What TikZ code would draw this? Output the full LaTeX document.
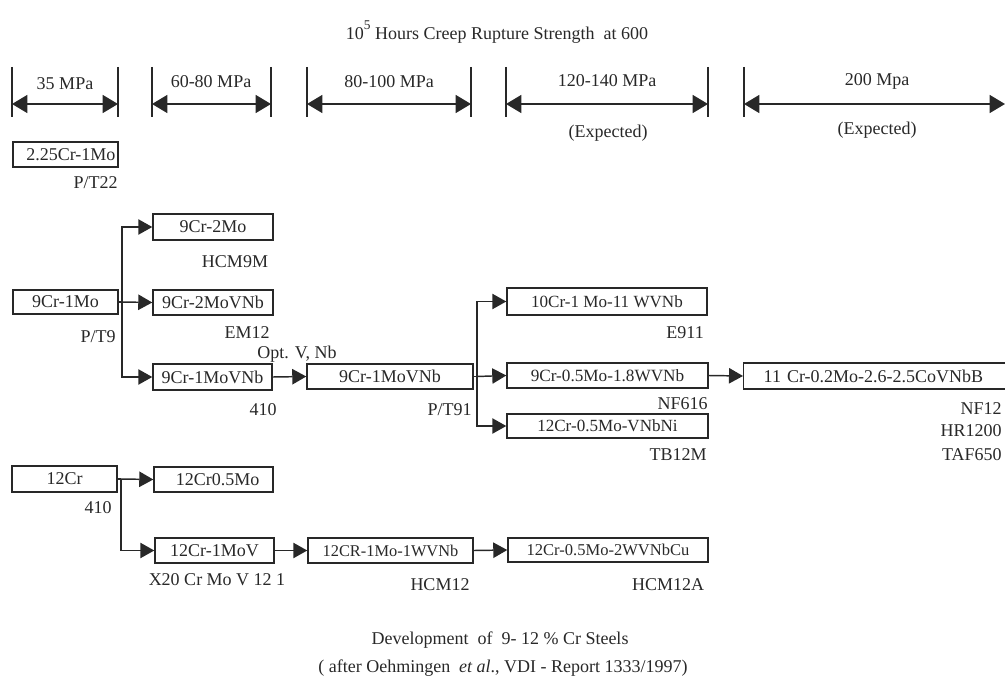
\documentclass[tikz,border=0pt]{standalone}
\usepackage{fontspec}
\setmainfont{Liberation Serif}
\usetikzlibrary{arrows.meta}
\definecolor{ink}{RGB}{40,40,40}
\tikzset{
  every node/.style={text=ink},
  lbl/.style={inner sep=0pt, font=\fontsize{13.5}{16}\selectfont},
  box/.style={draw=ink, line width=1.1pt, inner sep=0pt, font=\fontsize{13.5}{16}\selectfont},
  bw/.style={minimum width={#1*0.75pt}},
  bh/.style={minimum height={#1*0.75pt}},
  conn/.style={draw=ink, line width=1.1pt, -{Triangle[length=10.5pt,width=11.5pt]}},
  link/.style={draw=ink, line width=1.1pt},
  dimline/.style={draw=ink, line width=1.1pt, {Triangle[length=11.5pt,width=13.5pt]}-{Triangle[length=11.5pt,width=13.5pt]}},
  tick/.style={draw=ink, line width=1pt}
}
\begin{document}
\begin{tikzpicture}[x=0.75pt, y=-0.75pt]
\useasboundingbox (0,0) rectangle (1005,681);
\clip (0,0) rectangle (1005,681);

% title
\node[lbl] (title) at (497,32) {10\raisebox{0.55em}{\fontsize{10}{10}\selectfont 5}\ Hours Creep Rupture Strength\ \ at 600};

% dimension ranges
\foreach \xa/\xb/\nm in {12/118/a, 152/271/b, 307/471/c, 506/708/d}{
  \coordinate (\nm1) at (\xa,104);
  \coordinate (\nm2) at (\xb,104);
  \draw[tick] (\xa,67) -- (\xa,117);
  \draw[tick] (\xb,67) -- (\xb,117);
  \draw[dimline] (\nm1) -- (\nm2);
}
\coordinate (e1) at (744,104);
\coordinate (e2) at (1005,104);
\draw[tick, line width=1.8pt] (744,67) -- (744,117);
\draw[dimline] (e1) -- (e2);

\node[lbl] (r1) at (65,84) {35 MPa};
\node[lbl] (r2) at (211,82) {60-80 MPa};
\node[lbl] (r3) at (389,82) {80-100 MPa};
\node[lbl] (r4) at (607,81) {120-140 MPa};
\node[lbl] (r5) at (877,81) {200 Mpa};
\node[lbl] (x4) at (608,133) {(Expected)};
\node[lbl] (x5) at (877,130) {(Expected)};

% boxes
\node[box, bw=105, bh=25] (b225) at (65.5,154.5) {\hspace{8pt}2.25Cr-1Mo};
\node[lbl, anchor=east] (lp22) at (118,183) {P/T22};

\node[box, bw=105, bh=24] (b9cr1mo) at (65.5,302) {9Cr-1Mo};
\node[lbl, anchor=east] (lpt9) at (116,337) {P/T9};

\node[box, bw=120, bh=26] (b9cr2mo) at (213,227) {9Cr-2Mo};
\node[lbl] (lhcm9m) at (235,262) {HCM9M};

\node[box, bw=120, bh=25] (b9cr2movnb) at (213,302.5) {9Cr-2MoVNb};
\node[lbl] (lem12) at (247,333) {EM12};

\node[box, bw=119, bh=26] (b9cr1movnb) at (212.5,377) {9Cr-1MoVNb};
\node[lbl] (lopt) at (297,354) {Opt. V, Nb};
\node[lbl] (l410a) at (263,410) {410};

\node[box, bw=166, bh=25] (bT91) at (390,376.5) {9Cr-1MoVNb};
\node[lbl, anchor=east] (lpt91) at (472,410) {P/T91};

\node[box, bw=200, bh=27, font=\fontsize{12.8}{15}\selectfont] (b10cr) at (607,301.5) {10Cr-1 Mo-11 WVNb};
\node[lbl, anchor=east] (le911) at (704,333) {E911};

\node[box, bw=201, bh=25, font=\fontsize{12.9}{15}\selectfont] (b9cr05) at (607.5,375.5) {9Cr-0.5Mo-1.8WVNb};
\node[lbl, anchor=east] (lnf616) at (708,404) {NF616};

\node[box, bw=201, bh=24, font=\fontsize{12.8}{15}\selectfont] (b12vnbni) at (607.5,426) {12Cr-0.5Mo-VNbNi};
\node[lbl, anchor=east] (ltb12m) at (707,455) {TB12M};

\node[box, bh=26, text width={227*0.75pt}, inner xsep={20*0.75pt}, align=left, anchor=west] (b11cr) at (743,376) {11 Cr-0.2Mo-2.6-2.5CoVNbB};
\node[lbl, anchor=east] (lnf12) at (1002,409) {NF12};
\node[lbl, anchor=east] (lhr1200) at (1002,431) {HR1200};
\node[lbl, anchor=east] (ltaf650) at (1002,455) {TAF650};

\node[box, bw=105, bh=26] (b12cr) at (64.5,479) {12Cr};
\node[lbl] (l410b) at (98,508) {410};

\node[box, bw=119, bh=25] (b12cr05mo) at (213.5,479.5) {\hspace{6pt}12Cr0.5Mo};
\node[box, bw=119, bh=25] (b12cr1mov) at (214.5,550.5) {12Cr-1MoV};
\node[lbl] (lx20) at (217,580) {X20 Cr Mo V 12 1};

\node[box, bw=165, bh=25, font=\fontsize{12.3}{15}\selectfont] (bhcm12) at (390.5,550.5) {12CR-1Mo-1WVNb};
\node[lbl] (lhcm12) at (440,585) {HCM12};

\node[box, bw=200, bh=24, font=\fontsize{12.4}{15}\selectfont] (bhcm12a) at (608,550) {12Cr-0.5Mo-2WVNbCu};
\node[lbl] (lhcm12a) at (668,585) {HCM12A};

% trunks
\coordinate (t1) at (122,302);
\coordinate (t2) at (477,376.5);
\coordinate (t3) at (121,479);

\draw[link] (b9cr1mo.east) -- (t1);
\draw[conn] (t1) |- (b9cr2mo.west);
\draw[conn] (t1) -- (b9cr2movnb.west);
\draw[conn] (t1) |- (b9cr1movnb.west);
\draw[conn] (b9cr1movnb.east) -- (bT91.west);

\draw[link] (bT91.east) -- (t2);
\draw[conn] (t2) |- (b10cr.west);
\draw[conn] (t2) -- (b9cr05.west);
\draw[conn] (t2) |- (b12vnbni.west);
\draw[conn] (b9cr05.east) -- (b11cr.west);

\draw[link] (b12cr.east) -- (t3);
\draw[conn] (t3) -- (b12cr05mo.west);
\draw[conn] (t3) |- (b12cr1mov.west);
\draw[conn] (b12cr1mov.east) -- (bhcm12.west);
\draw[conn] (bhcm12.east) -- (bhcm12a.west);

% caption
\node[lbl] (cap1) at (500,640) {Development\ \ of\ \ 9- 12 \% Cr Steels};
\node[lbl] (cap2) at (503,668) {( after Oehmingen\ \ \textit{et al}., VDI - Report 1333/1997)};
\end{tikzpicture}
\end{document}
